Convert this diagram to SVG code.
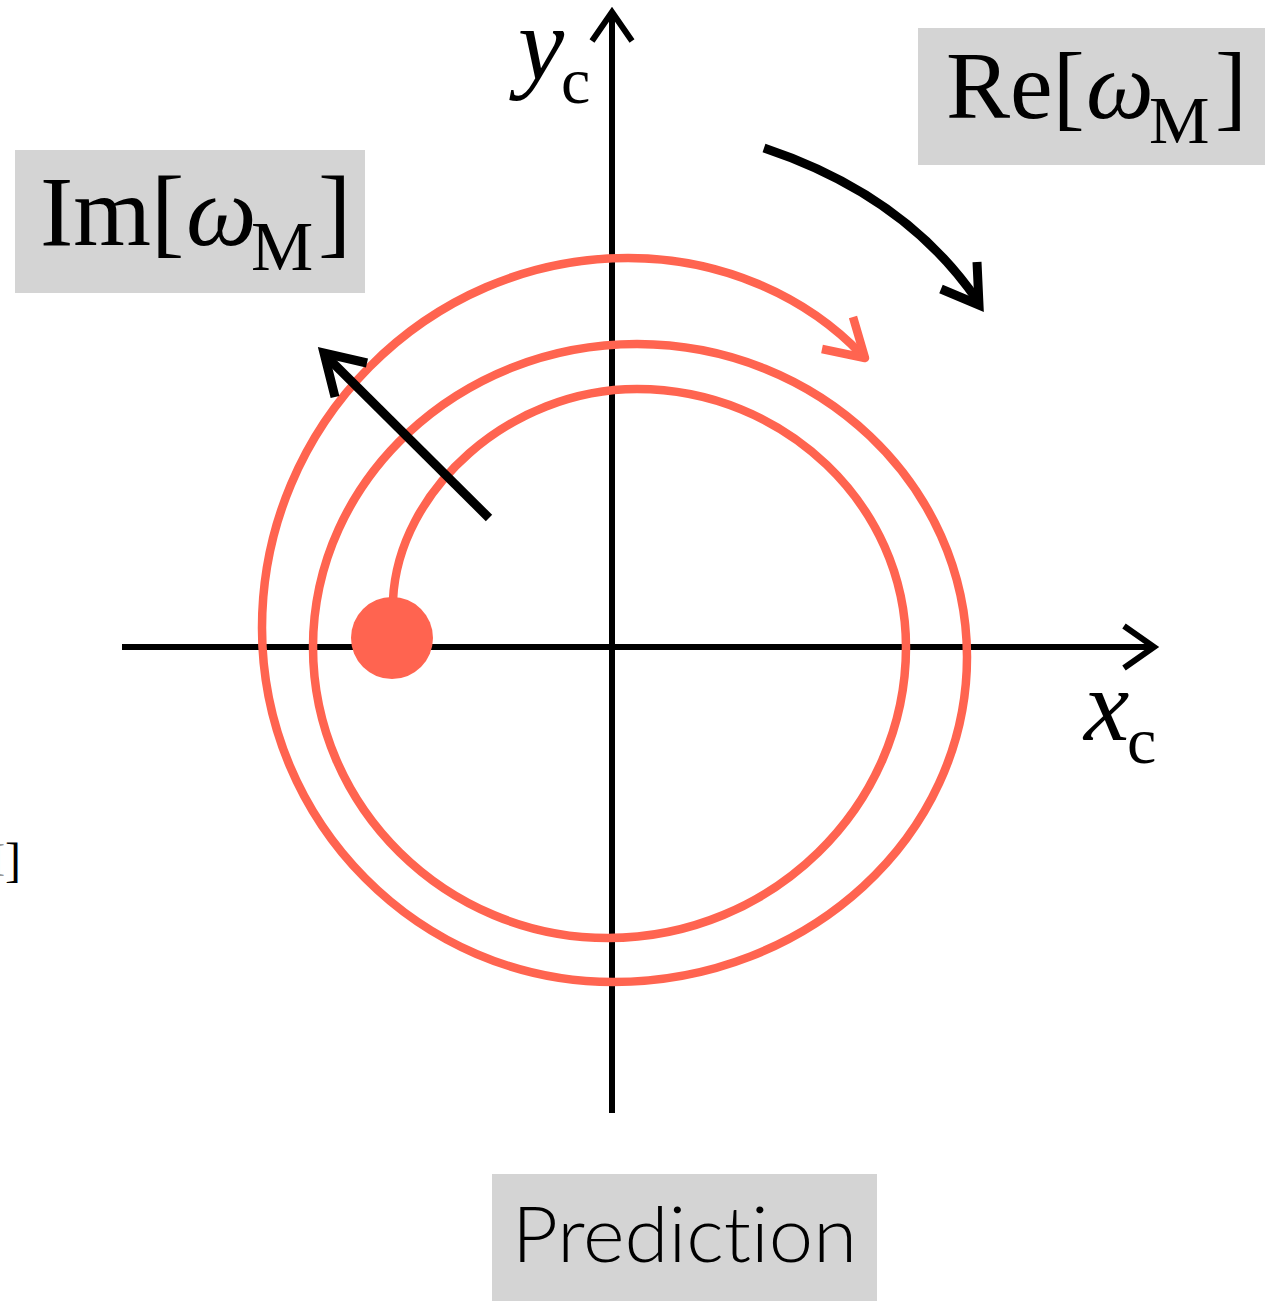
<svg xmlns="http://www.w3.org/2000/svg" width="1281" height="1301" viewBox="0 0 1281 1301">
<style>
.box{fill:#d4d4d4}
.serif{font-family:"Liberation Serif","Times New Roman",serif;fill:#000}
.it{font-style:italic}
.axis{stroke:#000;stroke-width:6;fill:none}
.blk{stroke:#000;stroke-width:9;fill:none;stroke-linejoin:miter}
.red{stroke:#ff6450;stroke-width:8.5;fill:none}
</style>
<rect width="1281" height="1301" fill="#fff"/>
<g id="fragment">
<text class="serif" x="21" y="876" font-size="48" text-anchor="end"><tspan fill="#999">M</tspan>]</text>
</g>
<g id="axes">
<line class="axis" x1="122" y1="647" x2="1153" y2="647"/>
<polyline class="axis" points="1124,626 1154,647 1124,668"/>
<line class="axis" x1="612" y1="1113" x2="612" y2="13"/>
<polyline class="axis" points="592,41 612,12 632,41"/>
</g>
<g id="label-yc"><text class="serif" x="518" y="79" font-size="104"><tspan class="it">y</tspan><tspan x="561" y="103" font-size="66">c</tspan></text></g>
<g id="label-xc"><text class="serif" x="1084" y="740" font-size="102"><tspan class="it">x</tspan><tspan x="1127" y="763" font-size="66">c</tspan></text></g>
<g id="spiral">
<path class="red" d="M 393 600 C 398 490 510 389 637 389 C 784 389 906 505 906 647 C 906 807 771 938 608 938 C 446 938 313 807 313 647 C 313 480 459 344 637 344 C 818 344 967 485 967 657 C 967 836 808 982 613 982 C 420 982 262 823 262 628 C 262 425 427 258 628 258 C 720 258 805 295 862 355"/>
<polyline class="red" stroke-linejoin="round" points="853,317 865,358 822,349"/>
<circle cx="392" cy="638" r="41" fill="#ff6450"/>
</g>
<g id="connectors">
<path class="blk" d="M 764 148 Q 905 195 977 300"/>
<polyline class="blk" points="977,262 979,305 941,289"/>
<line class="blk" x1="489" y1="518" x2="328" y2="358"/>
<polyline class="blk" points="367,363 324,353 335,397"/>
</g>
<g id="im-label">
<rect class="box" x="15" y="150" width="350" height="143"/>
<text class="serif" font-size="100"><tspan x="40" y="245">Im[</tspan><tspan class="it" x="186" y="245">ω</tspan><tspan x="251" y="270" font-size="70">M</tspan><tspan x="318" y="245">]</tspan></text>
</g>
<g id="re-label">
<rect class="box" x="918" y="28" width="347" height="137"/>
<text class="serif" font-size="96"><tspan x="946" y="118">Re[</tspan><tspan class="it" x="1086" y="118">ω</tspan><tspan x="1149" y="143" font-size="68">M</tspan><tspan x="1215" y="118">]</tspan></text>
</g>
<g id="prediction">
<rect class="box" x="492" y="1174" width="385" height="127"/>
<text x="512" y="1262" font-family="Lato, 'Noto Sans', sans-serif" font-weight="300" font-size="76" style="font-variant-ligatures:none" textLength="345" lengthAdjust="spacingAndGlyphs" fill="#000">Prediction</text>
</g>
</svg>
